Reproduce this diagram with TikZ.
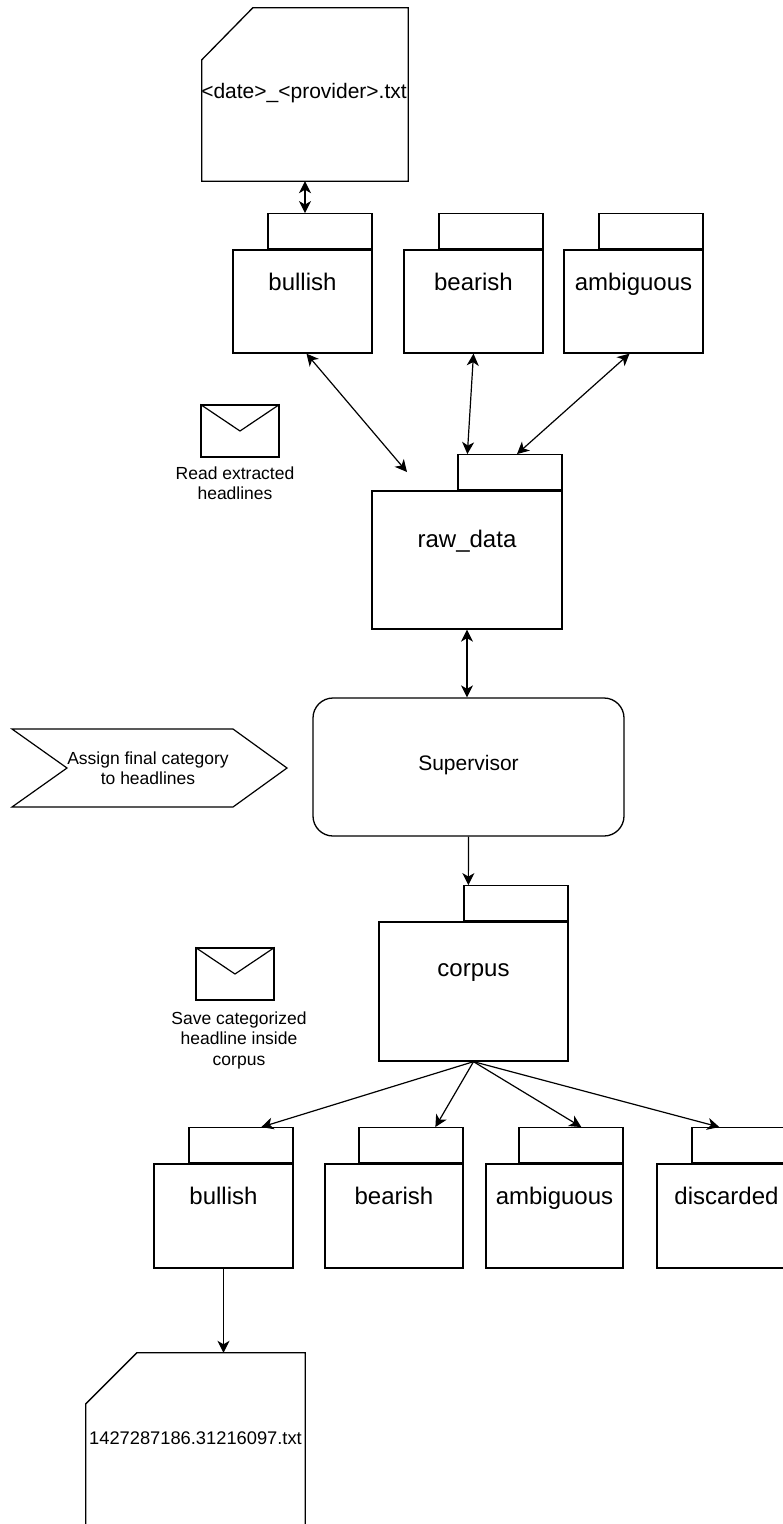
\documentclass[tikz,border=0pt]{standalone}
\usepackage{fontspec}
\setmainfont{Liberation Sans}
\usetikzlibrary{arrows.meta}

\begin{document}
\begin{tikzpicture}[x=1pt,y=-1pt,
  body/.style={draw, rectangle, inner sep=0pt, line width=1.3pt},
  tab/.style={draw, rectangle, inner sep=0pt, line width=1.3pt,
              minimum width=104pt, minimum height=35pt, anchor=south east},
  biglabel/.style={font=\fontsize{24pt}{28pt}\selectfont, inner sep=0pt, anchor=base},
  note/.style={font=\fontsize{17.5pt}{20.5pt}\selectfont, align=center, inner sep=0pt},
  envelope/.style={draw, rectangle, inner sep=0pt, line width=1.2pt,
                   minimum width=78pt, minimum height=52pt},
  filebox/.style={rectangle, inner sep=0pt, minimum height=173pt},
  tip/.tip={Stealth[length=12pt,width=12pt,inset=3.5pt]},
  link/.style={line width=1.2pt, -tip},
  dlink/.style={line width=1.2pt, tip-tip}
]
\useasboundingbox (0,0) rectangle (783,1524);
\clip (0,0) rectangle (783,1524);
\fill[white] (0,0) rectangle (783,1524);

% source file of extracted headlines
\node[filebox, minimum width=206pt] (file1) at (305,94.5) {};
\draw[line width=1.3pt] ([xshift=51pt]file1.north west) -- (file1.north east)
  -- (file1.south east) -- (file1.south west)
  -- ([yshift=-52pt]file1.north west) -- cycle;
\node[font=\fontsize{21pt}{25pt}\selectfont, inner sep=0pt] (file1txt) at (304,93) {<date>\_<provider>.txt};

% first row of category folders
\node[body, minimum width=139pt, minimum height=103pt] (t1) at (302.5,301.5) {};
\node[body, minimum width=139pt, minimum height=103pt] (t2) at (473.5,301.5) {};
\node[body, minimum width=139pt, minimum height=103pt] (t3) at (633.5,301.5) {};
\node[tab] (t1tab) at (t1.north east) {};
\node[tab] (t2tab) at (t2.north east) {};
\node[tab] (t3tab) at (t3.north east) {};
\node[biglabel] (t1lbl) at ([yshift=-41pt]t1.north) {bullish};
\node[biglabel] (t2lbl) at ([yshift=-41pt]t2.north) {bearish};
\node[biglabel] (t3lbl) at ([yshift=-41pt]t3.north) {ambiguous};

% raw data folder
\node[body, minimum width=190pt, minimum height=138pt] (raw) at (467,560) {};
\node[tab] (rawtab) at (raw.north east) {};
\node[biglabel] (rawlbl) at ([yshift=-57pt]raw.north) {raw\_data};

% read message
\node[envelope] (env1) at (240,431) {};
\draw[line width=1.2pt] (env1.north west) -- (env1.center) -- (env1.north east);
\node[note] (env1txt) at (235,483) {Read extracted\\headlines};

% supervisor
\node[draw, rectangle, rounded corners=20pt, line width=1.3pt, inner sep=0pt,
      minimum width=311pt, minimum height=138pt] (sup) at (468.5,767) {};
\node[font=\fontsize{21pt}{25pt}\selectfont, inner sep=0pt] (suplbl) at ([yshift=2pt]sup.center) {Supervisor};

% step to the left of the supervisor
\draw[line width=1.2pt] (12,729) -- (233,729) -- (287,768) -- (233,807)
  -- (12,807) -- (67,768) -- cycle;
\node[note] (steptxt) at (148,768) {Assign final category\\to headlines};

% corpus folder
\node[body, minimum width=189pt, minimum height=139pt] (corpus) at (473.5,991.5) {};
\node[tab] (corpustab) at (corpus.north east) {};
\node[biglabel] (corpuslbl) at ([yshift=-55pt]corpus.north) {corpus};

% save message
\node[envelope] (env2) at (235,974) {};
\draw[line width=1.2pt] (env2.north west) -- (env2.center) -- (env2.north east);
\node[note] (env2txt) at (239,1040) {Save categorized\\headline inside\\corpus};

% second row of category folders
\node[body, minimum width=139pt, minimum height=104pt] (b1) at (223.5,1216) {};
\node[body, minimum width=138pt, minimum height=104pt] (b2) at (394,1216) {};
\node[body, minimum width=137pt, minimum height=104pt] (b3) at (554.5,1216) {};
\node[body, minimum width=139pt, minimum height=104pt] (b4) at (726.5,1216) {};
\node[tab] (b1tab) at (b1.north east) {};
\node[tab] (b2tab) at (b2.north east) {};
\node[tab] (b3tab) at (b3.north east) {};
\node[tab] (b4tab) at (b4.north east) {};
\node[biglabel] (b1lbl) at ([yshift=-41pt]b1.north) {bullish};
\node[biglabel] (b2lbl) at ([yshift=-41pt]b2.north) {bearish};
\node[biglabel] (b3lbl) at ([yshift=-41pt]b3.north) {ambiguous};
\node[biglabel] (b4lbl) at ([yshift=-41pt]b4.north) {discarded};

% stored headline file
\node[filebox, minimum width=219pt] (file2) at (195.5,1439.5) {};
\draw[line width=1.3pt] ([xshift=51pt]file2.north west) -- (file2.north east)
  -- (file2.south east) -- (file2.south west)
  -- ([yshift=-51pt]file2.north west) -- cycle;
\node[font=\fontsize{18.3pt}{22pt}\selectfont, inner sep=0pt] (file2txt) at (195.5,1438) {1427287186.31216097.txt};

% connectors
\coordinate (rawin) at (407,472);
\draw[dlink] (file1.south) -- (file1.south |- t1tab.north);
\draw[dlink] ([xshift=4pt]t1.south) -- (rawin);
\draw[dlink] (t2.south) -- ([xshift=10pt]rawtab.north west);
\draw[dlink] ([xshift=-4pt]t3.south) -- ([xshift=7pt]rawtab.north);
\draw[dlink] (raw.south) -- (raw.south |- sup.north);
\draw[link] (sup.south) -- ([xshift=5pt]corpustab.north west);
\draw[link] (corpus.south) -- ([xshift=73pt]b1tab.north west);
\draw[link] (corpus.south) -- ([xshift=77pt]b2tab.north west);
\draw[link] (corpus.south) -- ([xshift=63pt]b3tab.north west);
\draw[link] (corpus.south) -- ([xshift=28pt]b4tab.north west);
\draw[link] (b1.south) -- (b1.south |- file2.north);
\end{tikzpicture}
\end{document}
